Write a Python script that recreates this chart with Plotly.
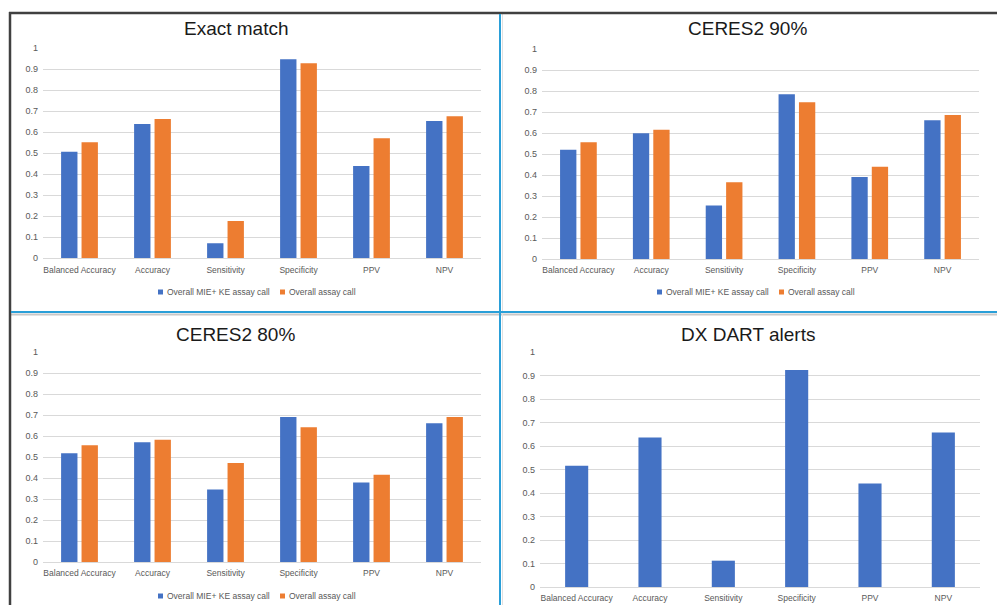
import plotly.graph_objects as go

W, H = 997, 605

categories = ["Balanced Accuracy", "Accuracy", "Sensitivity", "Specificity", "PPV", "NPV"]
series_names = ["Overall MIE+ KE assay call", "Overall assay call"]

exact_mie = [0.508, 0.640, 0.072, 0.948, 0.440, 0.654]
exact_assay = [0.553, 0.663, 0.178, 0.929, 0.572, 0.677]

c90_mie = [0.520, 0.599, 0.255, 0.785, 0.391, 0.661]
c90_assay = [0.556, 0.615, 0.365, 0.746, 0.439, 0.686]

c80_mie = [0.518, 0.570, 0.345, 0.691, 0.379, 0.661]
c80_assay = [0.556, 0.582, 0.471, 0.642, 0.415, 0.691]

dart = [0.516, 0.636, 0.112, 0.923, 0.440, 0.658]

titles = ["Exact match", "CERES2 90%", "CERES2 80%", "DX DART alerts"]

BLUE = "#4472C4"
ORANGE = "#ED7D31"
GRID = "#D9D9D9"
TXT = "#595959"
FONT = "Liberation Sans, Arial, sans-serif"


def px_x(x):
    return x / W


def px_y(y):
    return 1 - y / H


fig = go.Figure()

panels = [
    # (axis suffix, x0, x1, y_top(1), y_bottom(0), data lists, title center x, title y)
    ("", 43, 481, 48.3, 258.3, [exact_mie, exact_assay], 236, 28),
    ("2", 542, 979, 49, 259, [c90_mie, c90_assay], 747, 28),
    ("3", 43, 481, 352, 562, [c80_mie, c80_assay], 235, 334),
    ("4", 540, 980, 352, 587, [dart], 748, 334),
]

colors = [BLUE, ORANGE]
layout_upd = {}
annotations = []
shapes = []

for i, (suf, x0, x1, yt, yb, data, tx, ty) in enumerate(panels):
    xa = "x" + suf
    ya = "y" + suf
    for j, vals in enumerate(data):
        kw = {}
        if len(data) == 1:
            kw["width"] = 0.315
        fig.add_trace(go.Bar(
            x=categories, y=vals, name=series_names[j],
            marker=dict(color=colors[j], line=dict(width=0)),
            xaxis=xa, yaxis=ya, showlegend=False, **kw))
    layout_upd["xaxis" + suf] = dict(
        domain=[px_x(x0), px_x(x1)], anchor=ya, automargin=False,
        showgrid=False, showline=True, linecolor=GRID, linewidth=1,
        ticks="", tickfont=dict(family=FONT, size=8.5, color=TXT),
        ticklabelstandoff=3,
        tickangle=0, fixedrange=True)
    layout_upd["yaxis" + suf] = dict(
        domain=[px_y(yb), px_y(yt)], anchor=xa, automargin=False,
        range=[0, 1.0001], dtick=0.1, tick0=0,
        showgrid=True, gridcolor=GRID, gridwidth=1,
        zeroline=False, showline=False, ticks="",
        tickfont=dict(family=FONT, size=9, color=TXT),
        ticklabelstandoff=4, fixedrange=True)
    annotations.append(dict(
        text=titles[i], x=px_x(tx), y=px_y(ty), xref="paper", yref="paper",
        xanchor="center", yanchor="middle", showarrow=False,
        font=dict(family=FONT, size=19, color="#1a1a1a")))

# custom legends for the three two-series panels
legend_pos = [(158, 292), (657, 292), (158, 596)]
for (lx, ly) in legend_pos:
    items = [(lx, series_names[0], BLUE), (lx + 122, series_names[1], ORANGE)]
    for (sx, name, col) in items:
        shapes.append(dict(type="rect", xref="paper", yref="paper",
                           x0=px_x(sx), x1=px_x(sx + 5), y0=px_y(ly + 2.5), y1=px_y(ly - 2.5),
                           fillcolor=col, line=dict(width=0)))
        annotations.append(dict(
            text=name, x=px_x(sx + 7), y=px_y(ly), xref="paper", yref="paper",
            xanchor="left", yanchor="middle", showarrow=False,
            font=dict(family=FONT, size=8.5, color=TXT)))

# panel borders
DARK = "#404040"
BLUE_LINE = "#2A9FD8"
SHADOW = "#C8C8C8"
shapes.append(dict(type="line", xref="paper", yref="paper", x0=px_x(10), x1=1,
                   y0=px_y(314.5), y1=px_y(314.5), line=dict(color=SHADOW, width=2)))
shapes.append(dict(type="line", xref="paper", yref="paper", x0=px_x(502.5), x1=px_x(502.5),
                   y0=px_y(13), y1=0, line=dict(color="#E0E0E0", width=1)))
shapes.append(dict(type="line", xref="paper", yref="paper", x0=px_x(9), x1=1,
                   y0=px_y(13), y1=px_y(13), line=dict(color=DARK, width=2.5)))
shapes.append(dict(type="line", xref="paper", yref="paper", x0=px_x(10), x1=px_x(10),
                   y0=px_y(12), y1=0, line=dict(color=DARK, width=2.5)))
shapes.append(dict(type="line", xref="paper", yref="paper", x0=px_x(500), x1=px_x(500),
                   y0=px_y(14), y1=0, line=dict(color=BLUE_LINE, width=2)))
shapes.append(dict(type="line", xref="paper", yref="paper", x0=px_x(11), x1=1,
                   y0=px_y(312), y1=px_y(312), line=dict(color=BLUE_LINE, width=2)))

fig.update_layout(
    width=W, height=H,
    margin=dict(l=0, r=0, t=0, b=0, autoexpand=False),
    paper_bgcolor="white", plot_bgcolor="white",
    barmode="group", bargap=0.44, bargroupgap=0.2,
    showlegend=False,
    annotations=annotations, shapes=shapes,
    **layout_upd)

fig.write_html("out.html")
